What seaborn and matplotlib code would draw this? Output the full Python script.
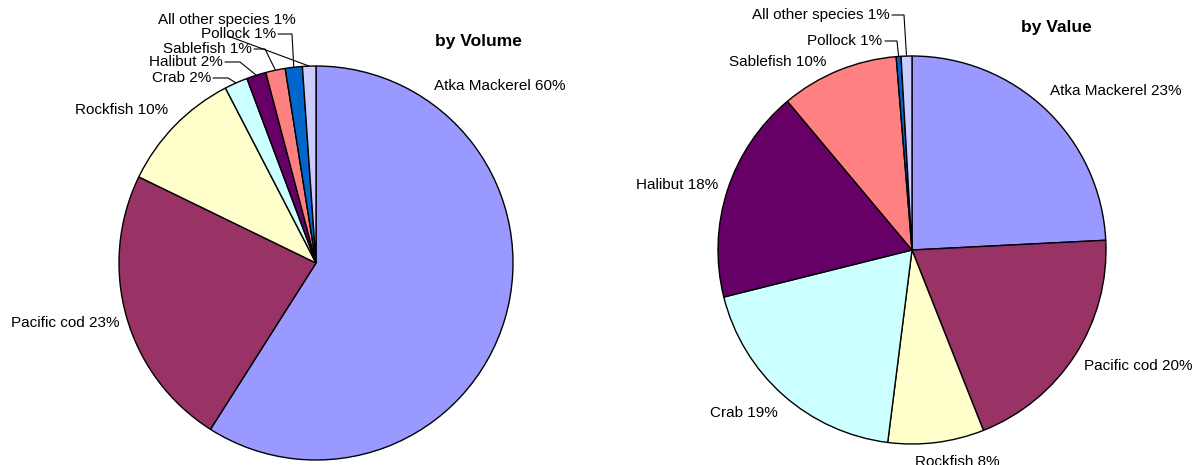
import matplotlib
matplotlib.use('Agg')
import matplotlib.pyplot as plt
import seaborn as sns
import numpy as np

# Données
species = ['Atka Mackerel', 'Pacific cod', 'Rockfish', 'Crab', 'Halibut',
           'Sablefish', 'Pollock', 'All other species']
volume = [59.0, 23.2, 10.2, 1.9, 1.6, 1.6, 1.4, 1.1]
volume_pct = [60, 23, 10, 2, 2, 1, 1, 1]
value = [24.2, 19.8, 8.0, 19.1, 17.8, 9.8, 0.4, 0.9]
value_pct = [23, 20, 8, 19, 18, 10, 1, 1]
colors = ['#9999FF', '#993366', '#FFFFCC', '#CCFFFF', '#660066',
          '#FF8080', '#0066CC', '#CCCCFF']

sns.set_theme(style='white')
plt.rcParams['font.family'] = ['Liberation Sans', 'DejaVu Sans']
plt.rcParams['text.color'] = 'black'

W, H = 1194, 465
fig = plt.figure(figsize=(W / 100, H / 100), dpi=100)
ax = fig.add_axes([0, 0, 1, 1])


def py(y):
    # coordonnées pixel (origine en haut) -> données
    return H - y


# position des étiquettes (bord gauche du texte, centre vertical) en pixels
# leader : None ou (x de fin du texte, x du coude, y de départ)
charts = [
    dict(vals=volume, pct=volume_pct, center=(316, 263), r=197,
         title='by Volume', title_xy=(435, 42),
         labels=[(434, 86, None), (11, 323, None), (75, 110, None),
                 (152, 78, (213, 228, 78)), (149, 62, (225, 240, 62)),
                 (163, 49, (254, 265, 49)), (201, 34, (278, 292, 34)),
                 (158, 20, (228, 228, 36))]),
    dict(vals=value, pct=value_pct, center=(912, 250), r=194,
         title='by Value', title_xy=(1021, 28),
         labels=[(1050, 91, None), (1084, 366, None), (915, 462, None),
                 (710, 413, None), (636, 185, None), (729, 62, None),
                 (807, 41, (885, 897, 41)), (752, 15, (892, 904, 15))]),
]

for ch in charts:
    cx, cy = ch['center']
    wedges, _ = ax.pie(ch['vals'], colors=colors, startangle=90, counterclock=False,
                       center=(cx, py(cy)), radius=ch['r'], frame=True,
                       wedgeprops=dict(edgecolor='black', linewidth=1.0))
    for w, name, p, (lx, ly, lead) in zip(wedges, species, ch['pct'], ch['labels']):
        ax.text(lx, py(ly), f'{name} {p}%', fontsize=11, ha='left', va='center',
                color='black')
        if lead is not None:
            mid = np.deg2rad((w.theta1 + w.theta2) / 2)
            ex = cx + ch['r'] * np.cos(mid)
            ey = py(cy) + ch['r'] * np.sin(mid)
            x0, xe, y0 = lead
            ax.plot([x0, xe, ex], [py(y0), py(y0), ey],
                    color='black', linewidth=0.8)
    tx, ty = ch['title_xy']
    ax.text(tx, py(ty), ch['title'], fontsize=12.5, fontweight='bold',
            ha='left', va='center', color='black')

ax.set_xlim(0, W)
ax.set_ylim(0, H)
ax.set_aspect('auto')
ax.axis('off')

fig.savefig('out.png', dpi=100)
